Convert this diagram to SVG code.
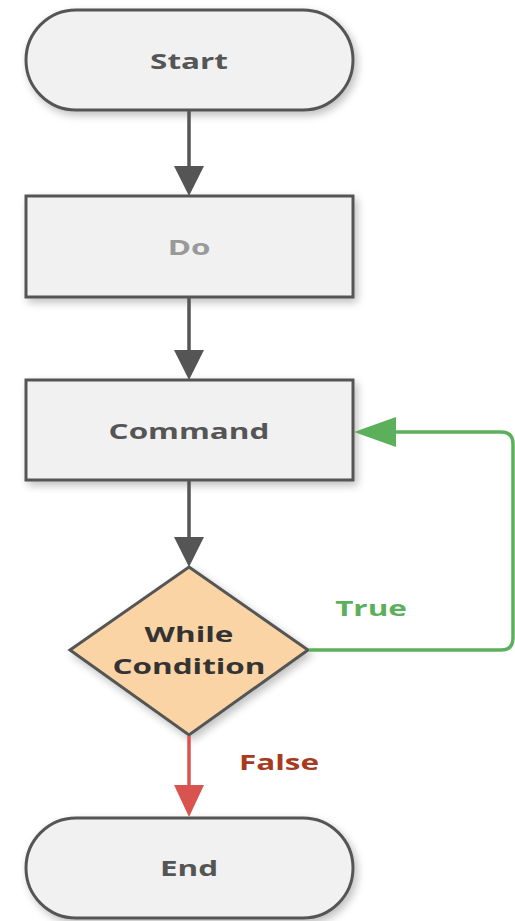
<svg xmlns="http://www.w3.org/2000/svg" width="515" height="921" viewBox="0 0 515 921">
<defs>
<filter id="sh" x="-10%" y="-10%" width="130%" height="140%">
<feGaussianBlur in="SourceAlpha" stdDeviation="4"/>
<feOffset dx="3" dy="4" result="b"/>
<feComponentTransfer><feFuncA type="linear" slope="0.25"/></feComponentTransfer>
<feMerge><feMergeNode/><feMergeNode in="SourceGraphic"/></feMerge>
</filter>
</defs>
<style>
.node{fill:#f1f1f1;stroke:#555;stroke-width:3;filter:url(#sh)}
.lbl{font-family:"Open Sans","Liberation Sans",sans-serif;font-weight:bold;font-size:22px;text-anchor:middle;dominant-baseline:central}
.edge{fill:none;stroke-width:3.5}
</style>
<g id="start">
<rect class="node" x="26" y="10" width="327" height="100" rx="50" ry="50"/>
<text class="lbl" transform="translate(189,60) scale(1.43,1)" fill="#555">Start</text>
</g>
<g id="do">
<rect class="node" x="26" y="196" width="327" height="101"/>
<text class="lbl" transform="translate(189,246) scale(1.43,1)" fill="#999">Do</text>
</g>
<g id="command">
<rect class="node" x="26" y="380" width="327" height="100"/>
<text class="lbl" transform="translate(189,430) scale(1.43,1)" fill="#555">Command</text>
</g>
<g id="condition">
<polygon class="node" style="fill:#fbd4a6" points="189,567 308,650 189,735 70,650"/>
<text class="lbl" transform="translate(189,633) scale(1.43,1)" fill="#333">While</text>
<text class="lbl" transform="translate(189,665) scale(1.43,1)" fill="#333">Condition</text>
</g>
<g id="end">
<rect class="node" x="26" y="818" width="327" height="100" rx="50" ry="50"/>
<text class="lbl" transform="translate(189,867) scale(1.43,1)" fill="#555">End</text>
</g>
<g id="connectors">
<line class="edge" stroke="#555" x1="189" y1="111" x2="189" y2="168"/>
<polygon fill="#555" points="174,166 204,166 189,196"/>
<line class="edge" stroke="#555" x1="189" y1="298" x2="189" y2="352"/>
<polygon fill="#555" points="174,350 204,350 189,380"/>
<line class="edge" stroke="#555" x1="189" y1="481" x2="189" y2="540"/>
<polygon fill="#555" points="174,537 204,537 189,567"/>
<path class="edge" stroke="#5cb05c" d="M309,650 H501 Q513,650 513,638 V444 Q513,432 501,432 H394"/>
<polygon fill="#5cb05c" points="396,417 396,447 354,432"/>
<line class="edge" stroke="#d9534f" x1="189" y1="736" x2="189" y2="788"/>
<polygon fill="#d9534f" points="174,785 204,785 189,817"/>
<text class="lbl" transform="translate(371,607) scale(1.43,1)" fill="#5cb05c">True</text>
<text class="lbl" transform="translate(279,761) scale(1.43,1)" fill="#a83a1f">False</text>
</g>
</svg>
